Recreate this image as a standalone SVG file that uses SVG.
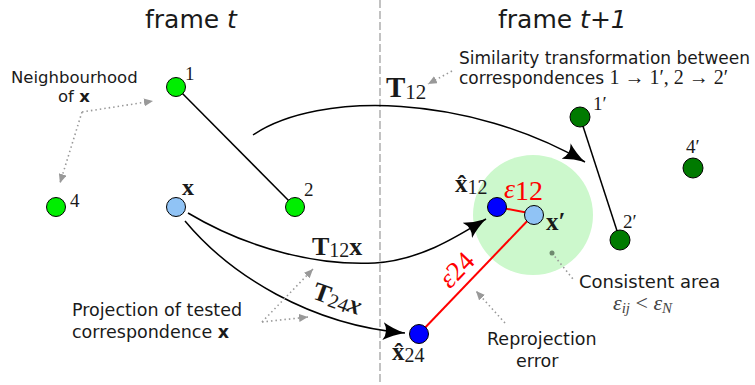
<svg xmlns="http://www.w3.org/2000/svg" width="755" height="385" viewBox="0 0 755 385">
<style>
.sans{font-family:"DejaVu Sans",sans-serif;fill:#1a1a1a}
.m{font-family:"Liberation Serif","DejaVu Serif",serif;fill:#1a1a1a}
.b{font-weight:bold}
.i{font-style:italic}
.red{fill:#ff0000}
.edge{fill:none;stroke:#000;stroke-width:1.5}
.dot{fill:none;stroke:#999;stroke-width:1.6;stroke-dasharray:1.5 3}
.g1{fill:#00ee00;stroke:#000;stroke-width:1}
.g2{fill:#007a00;stroke:#000;stroke-width:1}
.lb{fill:#90c3f5;stroke:#000;stroke-width:1}
.bl{fill:#0000ff;stroke:#000;stroke-width:1}
</style>
<defs>
<marker id="ah" markerUnits="userSpaceOnUse" markerWidth="24" markerHeight="18" viewBox="0 0 24 18" refX="22" refY="9" orient="auto">
<path d="M0,0 Q10,6 22,9 Q10,12 0,18 Q6,9 0,0 Z" fill="#000"/>
</marker>
<marker id="gh" markerUnits="userSpaceOnUse" markerWidth="10" markerHeight="8" viewBox="0 0 10 8" refX="9" refY="4" orient="auto">
<path d="M0,0 L9,4 L0,8 Z" fill="#999"/>
</marker>
</defs>
<rect width="755" height="385" fill="#fff"/>
<line x1="380" y1="0" x2="380" y2="385" stroke="#999" stroke-width="1.2" stroke-dasharray="8 3"/>
<circle id="consistent-area" cx="533" cy="215" r="60" fill="#ccf8cc"/>

<text class="sans" x="145" y="28" font-size="25">frame <tspan class="i">t</tspan></text>
<text class="sans" x="498" y="28" font-size="25">frame <tspan class="i">t+1</tspan></text>

<g id="connectors">
<line class="edge" x1="176" y1="87" x2="295" y2="207"/>
<line class="edge" x1="580" y1="117" x2="620" y2="240"/>
<path class="edge" d="M253,135 C320,90 470,95 585,162" marker-end="url(#ah)"/>
<path class="edge" d="M188,213 C250,250 320,266 375,263 C420,260 455,238 486,219" marker-end="url(#ah)"/>
<path class="edge" d="M185,221 C230,275 310,325 405,333" marker-end="url(#ah)"/>
<line x1="497" y1="207" x2="534" y2="214" stroke="#ff0000" stroke-width="2"/>
<line x1="534" y1="214" x2="419" y2="334" stroke="#ff0000" stroke-width="2"/>
<path class="dot" d="M82,112 L153,101" marker-end="url(#gh)"/>
<path class="dot" d="M82,112 L60,183" marker-end="url(#gh)"/>
<path class="dot" d="M452,71 L428,84" marker-end="url(#gh)"/>
<path class="dot" d="M262,322 L313,269" marker-end="url(#gh)"/>
<path class="dot" d="M262,322 L308,317" marker-end="url(#gh)"/>
<path class="dot" d="M505,323 L476,291" marker-end="url(#gh)"/>
<path class="dot" d="M552,253 L573,279"/>
<circle cx="552" cy="253" r="2.5" fill="#6f8a6f"/>
</g>

<g id="node-1"><circle class="g1" cx="176" cy="87" r="9.5"/><text class="m" x="185" y="80" font-size="19">1</text></g>
<g id="node-2"><circle class="g1" cx="295" cy="207" r="9.5"/><text class="m" x="304" y="196" font-size="19">2</text></g>
<g id="node-4"><circle class="g1" cx="56" cy="207" r="9.5"/><text class="m" x="70" y="207" font-size="19">4</text></g>
<g id="node-x"><circle class="lb" cx="176" cy="207" r="9.5"/><text class="m b" x="182" y="195" font-size="24">x</text></g>
<g id="node-1p"><circle class="g2" cx="580" cy="117" r="10"/><text class="m" x="593" y="110" font-size="19">1′</text></g>
<g id="node-2p"><circle class="g2" cx="620" cy="240" r="10"/><text class="m" x="623" y="228" font-size="19">2′</text></g>
<g id="node-4p"><circle class="g2" cx="693" cy="168" r="10"/><text class="m" x="686" y="153" font-size="19">4′</text></g>
<g id="node-xhat12"><circle class="bl" cx="497" cy="207" r="9.5"/><text class="m" x="455" y="192" font-size="25"><tspan class="b">x̂</tspan><tspan font-size="20" dy="2">12</tspan></text></g>
<g id="node-xprime"><circle class="lb" cx="534" cy="215" r="9.5"/><text class="m b" x="546" y="230" font-size="25">x′</text></g>
<g id="node-xhat24"><circle class="bl" cx="419" cy="334" r="9.5"/><text class="m" x="392" y="360" font-size="25"><tspan class="b">x̂</tspan><tspan font-size="20" dy="2">24</tspan></text></g>

<g id="labels">
<text class="m" x="386" y="97" font-size="29"><tspan class="b">T</tspan><tspan font-size="21" dy="2">12</tspan></text>
<text class="m" x="312" y="255" font-size="26"><tspan class="b">T</tspan><tspan font-size="20" dy="2">12</tspan><tspan class="b" dy="-2">x</tspan></text>
<text class="m" transform="translate(311,298) rotate(20)" font-size="26"><tspan class="b">T</tspan><tspan font-size="20" dy="2">24</tspan><tspan class="b i" dy="-2">x</tspan></text>
<text class="m red" x="504" y="198" font-size="28"><tspan class="i">ε</tspan><tspan dy="2">12</tspan></text>
<text class="m red" transform="translate(463,276) rotate(-46)" text-anchor="middle" font-size="27"><tspan class="i">ε</tspan>24</text>

<text class="sans" x="11" y="83" font-size="16.5">Neighbourhood</text>
<text class="sans" x="58" y="102" font-size="16.5">of <tspan font-weight="bold">x</tspan></text>
<text class="sans" x="459" y="64" font-size="17">Similarity transformation between</text>
<text class="sans" x="459" y="84" font-size="17">correspondences <tspan class="m" font-size="20">1 → 1′, 2 → 2′</tspan></text>
<text class="sans" x="72" y="316" font-size="17.5">Projection of tested</text>
<text class="sans" x="72" y="338" font-size="17.5">correspondence <tspan font-weight="bold">x</tspan></text>
<text class="sans" x="579" y="288" font-size="18">Consistent area</text>
<text class="m" x="613" y="310" font-size="22" style="fill:#444"><tspan class="i">ε</tspan><tspan class="i" font-size="15" dy="3">ij</tspan><tspan dy="-3"> &lt; </tspan><tspan class="i">ε</tspan><tspan class="i" font-size="15" dy="3">N</tspan></text>
<text class="sans" x="487" y="345" font-size="17.5">Reprojection</text>
<text class="sans" x="516" y="367" font-size="17.5">error</text>
</g>
</svg>
